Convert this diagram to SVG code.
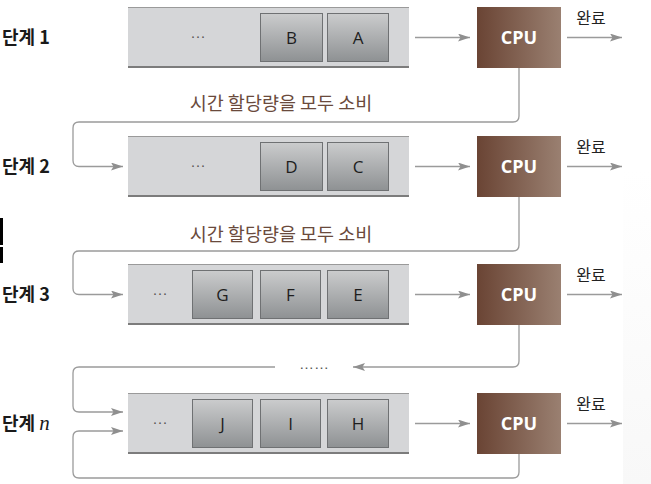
<svg xmlns="http://www.w3.org/2000/svg" width="651" height="484" viewBox="0 0 651 484">
<style>
.lbl{font-family:"Noto Sans CJK KR","Noto Sans",sans-serif;font-size:18px;font-weight:bold;fill:#1a1a1a}
.q{fill:#d5d6d8}
.qt{stroke:#9a9a9a;stroke-width:1}
.qb{stroke:#7c7c7c;stroke-width:2}
.cell{fill:url(#cg);stroke:#6f7173;stroke-width:1}
.ct{font-family:"Open Sans","Liberation Sans",sans-serif;font-size:17px;fill:#1e1e1e;text-anchor:middle}
.dots{font-family:"Liberation Sans",sans-serif;font-size:15px;fill:#555;text-anchor:middle}
.cpu{fill:url(#bg)}
.cput{font-family:"Open Sans","Liberation Sans",sans-serif;font-size:18px;font-weight:bold;fill:#fff;text-anchor:middle}
.done{font-family:"Noto Sans CJK KR",sans-serif;font-size:16px;fill:#222;text-anchor:middle}
.note{font-family:"Noto Sans CJK KR",sans-serif;font-size:18.5px;fill:#6a4a3c;text-anchor:middle}
.c{fill:none;stroke:#9b9b9b;stroke-width:1.3}
</style>
<defs>
<linearGradient id="cg" x1="0" y1="0" x2="0" y2="1">
<stop offset="0" stop-color="#cbcccd"/>
<stop offset="1" stop-color="#8e9193"/>
</linearGradient>
<linearGradient id="bg" x1="0" y1="0" x2="1" y2="0">
<stop offset="0" stop-color="#6a4434"/>
<stop offset="1" stop-color="#9a8071"/>
</linearGradient>
<linearGradient id="fade" x1="0" y1="0" x2="0" y2="1">
<stop offset="0" stop-color="#fff"/>
<stop offset="1" stop-color="#f8f8f8"/>
</linearGradient>
<marker id="ah" viewBox="0 0 12 8" refX="12" refY="4" markerWidth="12" markerHeight="8" markerUnits="userSpaceOnUse" orient="auto">
<path d="M0,0 L12,4 L0,8 L2.5,4 Z" fill="#8f8f8f"/>
</marker>
</defs>
<rect x="0" y="0" width="651" height="484" fill="#fff"/>
<rect x="623" y="170" width="28" height="314" fill="url(#fade)"/>
<rect x="0" y="218" width="3" height="27" fill="#000"/>
<rect x="0" y="247" width="3" height="16" fill="#000"/>

<g id="connectors">
<line class="c" x1="415" y1="37.5" x2="470" y2="37.5" marker-end="url(#ah)"/>
<line class="c" x1="567" y1="37.5" x2="622" y2="37.5" marker-end="url(#ah)"/>
<line class="c" x1="415" y1="166.5" x2="470" y2="166.5" marker-end="url(#ah)"/>
<line class="c" x1="567" y1="166.5" x2="622" y2="166.5" marker-end="url(#ah)"/>
<line class="c" x1="415" y1="294.5" x2="470" y2="294.5" marker-end="url(#ah)"/>
<line class="c" x1="567" y1="294.5" x2="622" y2="294.5" marker-end="url(#ah)"/>
<line class="c" x1="415" y1="423.5" x2="470" y2="423.5" marker-end="url(#ah)"/>
<line class="c" x1="567" y1="423.5" x2="622" y2="423.5" marker-end="url(#ah)"/>
<path class="c" d="M519,68 V116 Q519,122 513,122 H79 Q73,122 73,128 V160.5 Q73,166.5 79,166.5 H123" marker-end="url(#ah)"/>
<path class="c" d="M519,197 V245 Q519,251 513,251 H79 Q73,251 73,257 V288.5 Q73,294.5 79,294.5 H123" marker-end="url(#ah)"/>
<path class="c" d="M519,325 V361 Q519,367 513,367 H353" marker-end="url(#ah)"/>
<path class="c" d="M275,367 H79 Q73,367 73,373 V406 Q73,412 79,412 H123" marker-end="url(#ah)"/>
<path class="c" d="M519,454 V472 Q519,478 513,478 H79 Q73,478 73,472 V437 Q73,431 79,431 H123" marker-end="url(#ah)"/>
<text class="dots" x="314" y="369">……</text>
<text class="note" x="281" y="110">시간 할당량을 모두 소비</text>
<text class="note" x="281" y="241">시간 할당량을 모두 소비</text>
</g>

<g id="label1"><text class="lbl" x="2" y="44">단계 1</text></g>
<g id="label2"><text class="lbl" x="2" y="173">단계 2</text></g>
<g id="label3"><text class="lbl" x="2" y="301">단계 3</text></g>
<g id="labeln"><text class="lbl" x="2" y="430">단계 <tspan font-family="Liberation Serif,serif" font-style="italic" font-weight="normal" font-size="21">n</tspan></text></g>

<g id="queue1">
<rect class="q" x="128" y="7" width="281" height="61"/>
<line class="qt" x1="128" y1="7.5" x2="409" y2="7.5"/>
<line class="qb" x1="128" y1="67" x2="409" y2="67"/>
<text class="dots" x="198" y="41">···</text>
<rect class="cell" x="260.5" y="13.5" width="62" height="48"/><text class="ct" x="291.5" y="44">B</text>
<rect class="cell" x="327.5" y="13.5" width="61" height="48"/><text class="ct" x="358" y="44">A</text>
</g>
<g id="queue2">
<rect class="q" x="128" y="136" width="281" height="61"/>
<line class="qt" x1="128" y1="136.5" x2="409" y2="136.5"/>
<line class="qb" x1="128" y1="196" x2="409" y2="196"/>
<text class="dots" x="198" y="170">···</text>
<rect class="cell" x="260.5" y="142.5" width="62" height="48"/><text class="ct" x="291.5" y="173">D</text>
<rect class="cell" x="327.5" y="142.5" width="61" height="48"/><text class="ct" x="358" y="173">C</text>
</g>
<g id="queue3">
<rect class="q" x="128" y="264" width="281" height="61"/>
<line class="qt" x1="128" y1="264.5" x2="409" y2="264.5"/>
<line class="qb" x1="128" y1="324" x2="409" y2="324"/>
<text class="dots" x="160" y="298">···</text>
<rect class="cell" x="192.5" y="270.5" width="60" height="48"/><text class="ct" x="222.5" y="301">G</text>
<rect class="cell" x="260.5" y="270.5" width="60" height="48"/><text class="ct" x="290.5" y="301">F</text>
<rect class="cell" x="327.5" y="270.5" width="61" height="48"/><text class="ct" x="358" y="301">E</text>
</g>
<g id="queuen">
<rect class="q" x="128" y="393" width="281" height="61"/>
<line class="qt" x1="128" y1="393.5" x2="409" y2="393.5"/>
<line class="qb" x1="128" y1="453" x2="409" y2="453"/>
<text class="dots" x="160" y="427">···</text>
<rect class="cell" x="192.5" y="399.5" width="60" height="48"/><text class="ct" x="222.5" y="430">J</text>
<rect class="cell" x="260.5" y="399.5" width="60" height="48"/><text class="ct" x="290.5" y="430">I</text>
<rect class="cell" x="327.5" y="399.5" width="61" height="48"/><text class="ct" x="358" y="430">H</text>
</g>

<g id="cpu1"><rect class="cpu" x="477" y="7" width="84" height="61"/><text class="cput" x="519" y="44">CPU</text><text class="done" x="591" y="24">완료</text></g>
<g id="cpu2"><rect class="cpu" x="477" y="136" width="84" height="61"/><text class="cput" x="519" y="173">CPU</text><text class="done" x="591" y="153">완료</text></g>
<g id="cpu3"><rect class="cpu" x="477" y="264" width="84" height="61"/><text class="cput" x="519" y="301">CPU</text><text class="done" x="591" y="281">완료</text></g>
<g id="cpun"><rect class="cpu" x="477" y="393" width="84" height="61"/><text class="cput" x="519" y="430">CPU</text><text class="done" x="591" y="410">완료</text></g>
</svg>
